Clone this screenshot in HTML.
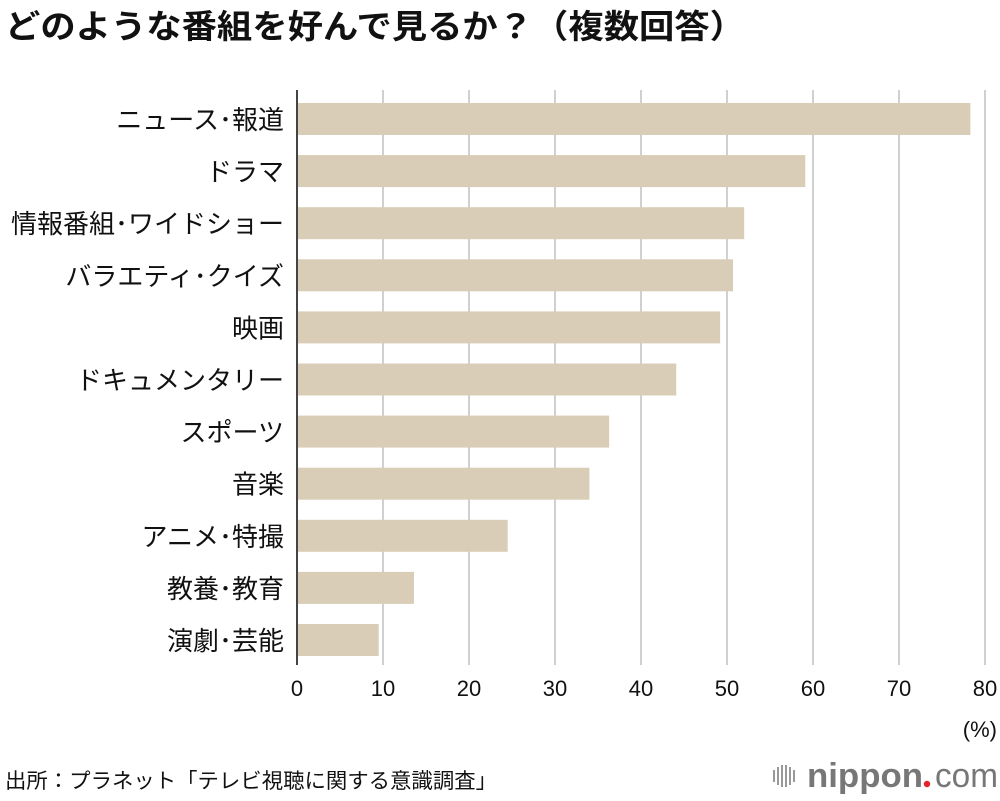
<!DOCTYPE html>
<html><head><meta charset="utf-8"><style>
body{margin:0;background:#fff;font-family:"Liberation Sans","Noto Sans CJK JP",sans-serif;}
</style></head><body>
<svg id="c" width="1000" height="796" xmlns="http://www.w3.org/2000/svg" style="font-family:'Liberation Sans','Noto Sans CJK JP',sans-serif">
<text x="5" y="38" font-size="33" font-weight="bold" fill="#111" textLength="740" lengthAdjust="spacingAndGlyphs">どのような番組を好んで見るか？（複数回答）</text>
<g id="grid"></g><g id="bars"></g><g id="labels"></g><g id="ticks"></g>
<text x="997" y="737" font-size="22" text-anchor="end" fill="#111">(%)</text>
<text x="5" y="788" font-size="21" fill="#111" textLength="492" lengthAdjust="spacingAndGlyphs">出所：プラネット「テレビ視聴に関する意識調査」</text>
<g>
<g fill="#999"><rect x="773" y="770" width="2" height="12"/><rect x="777" y="767" width="2" height="18"/><rect x="781" y="765" width="2" height="22"/><rect x="785" y="765" width="2" height="22"/><rect x="789" y="767" width="2" height="18"/><rect x="793" y="770" width="2" height="12"/></g>
<text x="807" y="787" font-size="34" font-weight="bold" fill="#777" textLength="116" lengthAdjust="spacingAndGlyphs">nippon</text>
<circle cx="927" cy="784" r="3.2" fill="#e4232b"/>
<text x="935" y="787" font-size="34" fill="#777" textLength="63" lengthAdjust="spacingAndGlyphs">com</text>
</g>
</svg>
<script>
const categories=["ニュース･報道","ドラマ","情報番組･ワイドショー","バラエティ･クイズ","映画","ドキュメンタリー","スポーツ","音楽","アニメ･特撮","教養･教育","演劇･芸能"];
const values=[78.3,59.1,52.0,50.7,49.2,44.1,36.3,34.0,24.5,13.6,9.5];
const ticks=[0,10,20,30,40,50,60,70,80];
const NS="http://www.w3.org/2000/svg";
const x=v=>297+v*8.6;
const y=i=>103+i*52.1;
function mk(t,a,p){const e=document.createElementNS(NS,t);for(const k in a)e.setAttribute(k,a[k]);document.getElementById(p).appendChild(e);return e;}
ticks.forEach(t=>{
const g=mk('line',{x1:x(t),x2:x(t),y1:90,y2:665,stroke:'#d0d0d0','stroke-width':2},'grid');


const l=mk('text',{x:x(t),y:696,'font-size':22,'text-anchor':'middle',fill:'#111'},'ticks');
l.textContent=t;


});
categories.forEach((c,i)=>{
const b=mk('rect',{x:x(0),y:y(i),width:x(values[i])-x(0),height:32,fill:'#d9cdb7'},'bars');


const l=mk('text',{x:284,y:y(i)+26,'font-size':26,'text-anchor':'end',fill:'#111'},'labels');
l.textContent=c;


});
const ax=mk('line',{x1:297,x2:297,y1:90,y2:665,stroke:'#444','stroke-width':2},'ticks');


</script>
</body></html>
